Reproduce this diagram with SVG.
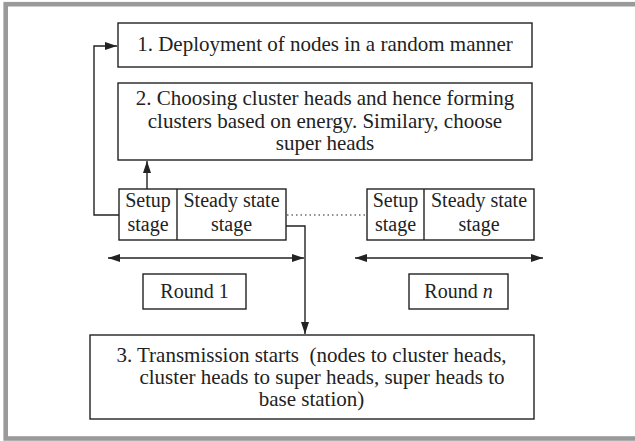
<svg xmlns="http://www.w3.org/2000/svg" width="635" height="441" viewBox="0 0 635 441">
<defs>
<style>
.box{fill:#fff;stroke:#222;stroke-width:1.4}
.t{font-family:"Liberation Serif","Times New Roman",serif;font-size:21px;fill:#222;text-anchor:middle}
.ts{font-family:"Liberation Serif","Times New Roman",serif;font-size:20px;fill:#222;text-anchor:middle}
.c{fill:none;stroke:#222;stroke-width:1.4}
</style>
<marker id="ah" markerUnits="userSpaceOnUse" markerWidth="13" markerHeight="9" refX="12" refY="4" orient="auto-start-reverse">
<path d="M0,0 L12,4 L0,8 z" fill="#222"/>
</marker>
</defs>
<rect x="0" y="0" width="635" height="441" fill="#fff"/>
<rect x="5.7" y="4.2" width="640" height="434.3" fill="#fff" stroke="#9a9a9a" stroke-width="4.6"/>

<g id="n1">
<rect class="box" x="118" y="23" width="414" height="44"/>
<text class="t" x="325" y="51">1. Deployment of nodes in a random manner</text>
</g>
<g id="n2">
<rect class="box" x="118" y="83" width="414" height="77"/>
<text class="t" x="325" y="105">2. Choosing cluster heads and hence forming</text>
<text class="t" x="325" y="128">clusters based on energy. Similary, choose</text>
<text class="t" x="325" y="150">super heads</text>
</g>
<g id="r1">
<rect class="box" x="119" y="189" width="167" height="51"/>
<line class="c" x1="177" y1="189" x2="177" y2="240"/>
<text class="ts" x="148" y="207">Setup</text>
<text class="ts" x="148" y="231">stage</text>
<text class="ts" x="231.5" y="207">Steady state</text>
<text class="ts" x="231.5" y="231">stage</text>
</g>
<g id="rn">
<rect class="box" x="367" y="189" width="167" height="51"/>
<line class="c" x1="424" y1="189" x2="424" y2="240"/>
<text class="ts" x="395.5" y="207">Setup</text>
<text class="ts" x="395.5" y="231">stage</text>
<text class="ts" x="479" y="207">Steady state</text>
<text class="ts" x="479" y="231">stage</text>
</g>
<g id="round1">
<rect class="box" x="143" y="274" width="103" height="35"/>
<text class="ts" x="194.5" y="298">Round 1</text>
</g>
<g id="roundn">
<rect class="box" x="409" y="274" width="99" height="35"/>
<text class="ts" x="458.5" y="298">Round <tspan font-style="italic">n</tspan></text>
</g>
<g id="n3">
<rect class="box" x="90" y="335" width="444" height="84"/>
<text class="t" x="311.5" y="362" style="white-space:pre">3. Transmission starts  (nodes to cluster heads,</text>
<text class="t" x="322" y="384">cluster heads to super heads, super heads to</text>
<text class="t" x="311.5" y="406">base station)</text>
</g>
<g id="connectors">
<polyline class="c" points="119,215 94,215 94,46 117,46" marker-end="url(#ah)"/>
<line class="c" x1="147" y1="189" x2="147" y2="161" marker-end="url(#ah)"/>
<polyline class="c" points="286,226 305,226 305,334" marker-end="url(#ah)"/>
<line class="c" x1="108" y1="258" x2="304" y2="258" marker-start="url(#ah)" marker-end="url(#ah)"/>
<line class="c" x1="355" y1="258" x2="543" y2="258" marker-start="url(#ah)" marker-end="url(#ah)"/>
<line x1="287" y1="215" x2="366" y2="215" stroke="#222" stroke-width="1.2" stroke-dasharray="1.5,3"/>
</g>
</svg>
